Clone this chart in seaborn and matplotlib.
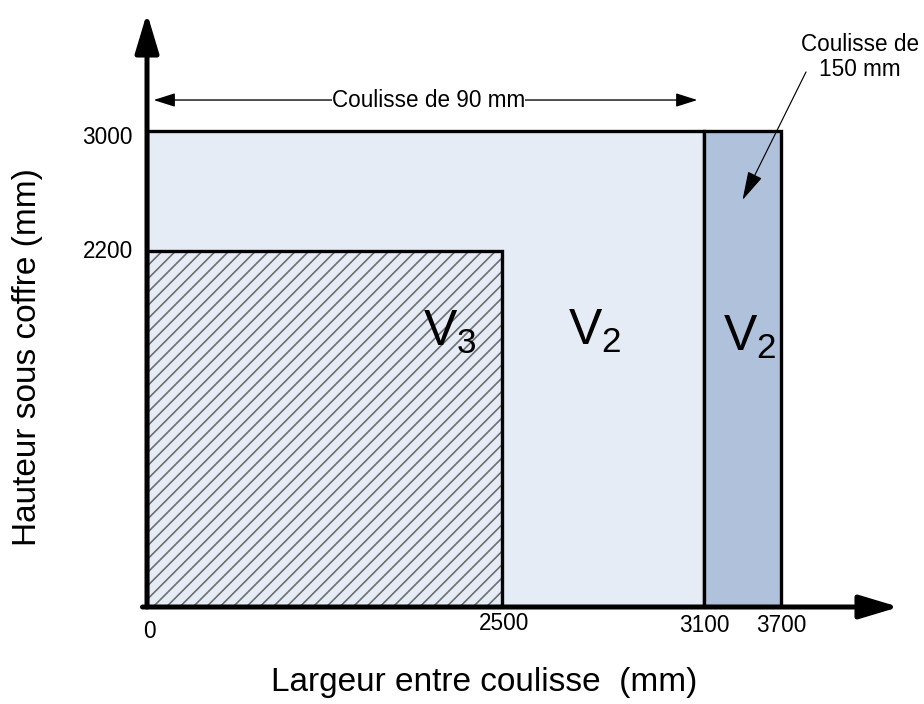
import numpy as np
import matplotlib
matplotlib.use("Agg")
import matplotlib.pyplot as plt
import seaborn as sns

# zones (mm) : largeur entre coulisse x hauteur sous coffre
zone_names = [r"$\mathregular{V_2}$", r"$\mathregular{V_2}$", r"$\mathregular{V_3}$"]
zone_left = [0, 3100, 0]
zone_right = [3100, 3700, 2500]
zone_top = [3000, 3000, 2200]
zone_colors = ["#e6ecf6", "#afc1db", "#e6ecf6"]

x_ticks = [0, 2500, 3100, 3700]
y_ticks = [2200, 3000]

sns.set_style("white")
plt.rcParams["font.family"] = ["Liberation Sans", "DejaVu Sans"]
plt.rcParams["mathtext.fontset"] = "custom"
plt.rcParams["mathtext.rm"] = "Liberation Sans"
plt.rcParams["text.color"] = "black"
plt.rcParams["hatch.linewidth"] = 1.0

fig = plt.figure(figsize=(924 / 120, 704 / 120), dpi=120)
ax = fig.add_axes([147 / 924, 97 / 704, 752 / 924, 594 / 704])

# schematic (non proportional) axes, piecewise linear
x_breaks = [0, 2500, 3100, 3700, 4400]
x_pix = [0, 355, 557, 634, 752]
y_breaks = [0, 2200, 3000, 3800]
y_pix = [0, 356, 476, 594]
ax.set_xscale("function", functions=(lambda v: np.interp(v, x_breaks, x_pix),
                                     lambda p: np.interp(p, x_pix, x_breaks)))
ax.set_yscale("function", functions=(lambda v: np.interp(v, y_breaks, y_pix),
                                     lambda p: np.interp(p, y_pix, y_breaks)))
ax.set_xlim(0, 4400)
ax.set_ylim(0, 3800)

left = np.array(zone_left)
width = np.array(zone_right) - left
top = np.array(zone_top)

# V2 zones
ax.bar(left[:2], top[:2], width=width[:2], align="edge", color=zone_colors[:2],
       edgecolor="black", linewidth=2)
# V3 zone, hatched
ax.bar(left[2], top[2], width=width[2], align="edge", color=zone_colors[2],
       edgecolor="#6e6e6e", hatch="///", linewidth=0)
ax.bar(left[2], top[2], width=width[2], align="edge", fill=False,
       edgecolor="black", linewidth=2)

label_pos = [(2776, 1700), (3458, 1668), (2134, 1699)]
for name, (px, py) in zip(zone_names, label_pos):
    ax.text(px, py, name, ha="center", va="center", fontsize=30)

# axes with arrows
arrow = dict(arrowstyle="-|>,head_length=2.0,head_width=0.6", color="black",
             lw=3, shrinkA=0, shrinkB=0, mutation_scale=10)
ax.annotate("", xy=(1, 0), xytext=(-0.006, 0), xycoords="axes fraction",
            arrowprops=arrow, annotation_clip=False)
ax.annotate("", xy=(0, 1), xytext=(0, 0), xycoords="axes fraction",
            arrowprops=arrow, annotation_clip=False)

# tick labels
x_off = [(2, -25), (2, -16), (0, -19), (0, -19)]
for v, off in zip(x_ticks, x_off):
    ax.annotate(str(v), xy=(v, 0), xytext=off, textcoords="offset pixels",
                ha="center", va="center", fontsize=13.5, annotation_clip=False)
y_off = [(-14, -1), (-14, -6)]
for v, off in zip(y_ticks, y_off):
    ax.annotate(str(v), xy=(0, v), xytext=off, textcoords="offset pixels",
                ha="right", va="center", fontsize=13.5, annotation_clip=False)

ax.set_xticks([])
ax.set_yticks([])
sns.despine(ax=ax, left=True, bottom=True)

# coulisse de 90 mm
ax.annotate("", xy=(0, 3210), xytext=(3100, 3210),
            arrowprops=dict(arrowstyle="<|-|>,head_length=1.1,head_width=0.35",
                            color="black", lw=0.8, shrinkA=4, shrinkB=4,
                            mutation_scale=10), annotation_clip=False)
ax.text(1980, 3210, "Coulisse de 90 mm", ha="center", va="center", fontsize=13.5,
        bbox=dict(facecolor="white", edgecolor="none", pad=0))

# coulisse de 150 mm
ax.annotate("", xy=(3400, 2540), xytext=(806, 704 - 72), textcoords="figure pixels",
            arrowprops=dict(arrowstyle="-|>,head_length=1.5,head_width=0.4",
                            color="black", lw=0.7, shrinkA=0, shrinkB=0,
                            mutation_scale=10), annotation_clip=False)
fig.text(860 / 924, 1 - 57 / 704, "Coulisse de\n150 mm", ha="center", va="center",
         fontsize=13.5, linespacing=1.15)

fig.text(484 / 924, 1 - 683 / 704, "Largeur entre coulisse  (mm)",
         ha="center", va="center", fontsize=20)
fig.text(28 / 924, 1 - 357 / 704, "Hauteur sous coffre (mm)", rotation=90,
         ha="center", va="center", fontsize=20)

fig.savefig("out.png", dpi=120)
